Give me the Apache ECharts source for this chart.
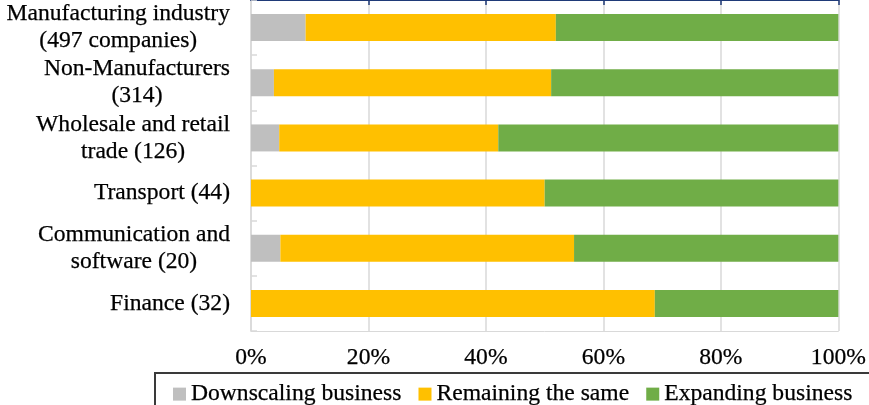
<!DOCTYPE html>
<html>
<head>
<meta charset="utf-8">
<title>Business outlook by industry</title>
<script src="https://cdn.jsdelivr.net/npm/echarts@6/dist/echarts.min.js"></script>
<style>
  html, body { margin: 0; padding: 0; background: #ffffff; }
  #chart { width: 869px; height: 405px; }
</style>
</head>
<body>
<div id="chart"></div>
<script>
// Industries (number of responding companies), listed top to bottom
const categories = [
  'Manufacturing industry\n(497 companies)',
  'Non-Manufacturers\n(314)',
  'Wholesale and retail\ntrade (126)',
  'Transport (44)',
  'Communication and\nsoftware (20)',
  'Finance (32)'
];

// Share of companies (%) in each outlook group
const downscaling = [9.3, 3.9, 4.8, 0, 5, 0];
const remaining   = [42.6, 47.2, 37.3, 50, 50, 68.75];
const expanding   = [48.1, 48.9, 57.9, 50, 45, 31.25];

const seriesNames = ['Downscaling business', 'Remaining the same', 'Expanding business'];
const percentTicks = [0, 20, 40, 60, 80, 100];

const FONT = '"Liberation Serif", "Times New Roman", serif';
const TEXT = '#000000';
const FS = 23.6;
const GRID = '#d9d9d9';

const chart = echarts.init(document.getElementById('chart'), null, { renderer: 'canvas' });

function centeredLines(value) {
  return value.split('\n').map(function (line) { return '{c|' + line + '}'; }).join('\n');
}

const textLook = { fontFamily: FONT, fontSize: FS, color: TEXT, textBorderColor: TEXT, textBorderWidth: 0.25 };

const option = {
  backgroundColor: '#ffffff',
  animation: false,
  grid: { left: 251, right: 27, top: 0, bottom: 74, containLabel: false },
  legend: {
    data: seriesNames,
    left: 173,
    top: 382,
    padding: 0,
    itemWidth: 13,
    itemHeight: 13,
    itemGap: 17,
    icon: 'rect',
    textStyle: textLook
  },
  graphic: [{
    type: 'rect',
    silent: true,
    shape: { x: 155, y: 373, width: 760, height: 80 },
    style: { fill: 'none', stroke: '#3a3a3a', lineWidth: 2 }
  }],
  xAxis: [{
    type: 'value',
    position: 'bottom',
    min: percentTicks[0],
    max: percentTicks[percentTicks.length - 1],
    interval: percentTicks[1] - percentTicks[0],
    axisLine: { show: true, lineStyle: { color: GRID, width: 1 } },
    axisTick: { show: false },
    splitLine: { show: true, lineStyle: { color: GRID, width: 1.5 } },
    axisLabel: Object.assign({ formatter: '{value}%', margin: 15 }, textLook)
  }, {
    type: 'value',
    position: 'top',
    min: percentTicks[0],
    max: percentTicks[percentTicks.length - 1],
    interval: percentTicks[1] - percentTicks[0],
    axisLine: { show: true, lineStyle: { color: '#1f3a78', width: 2 } },
    axisTick: {
      show: true,
      inside: true,
      length: 5,
      customValues: percentTicks.slice(1),
      lineStyle: { color: '#1f3a78', width: 1.5 }
    },
    axisLabel: { show: false },
    splitLine: { show: false }
  }],
  yAxis: {
    type: 'category',
    data: categories,
    inverse: true,
    axisLine: { show: true, lineStyle: { color: GRID, width: 1.5 } },
    axisTick: { show: true, inside: true, length: 6, lineStyle: { color: GRID, width: 1.5 } },
    axisLabel: {
      margin: 21,
      formatter: centeredLines,
      rich: {
        c: Object.assign({ align: 'center', lineHeight: 27 }, textLook)
      }
    }
  },
  series: [
    { name: seriesNames[0], type: 'bar', stack: 'share', barWidth: 27, data: downscaling, itemStyle: { color: '#bfbfbf' } },
    { name: seriesNames[1], type: 'bar', stack: 'share', barWidth: 27, data: remaining,   itemStyle: { color: '#ffc000' } },
    { name: seriesNames[2], type: 'bar', stack: 'share', barWidth: 27, data: expanding,   itemStyle: { color: '#70ad47' } }
  ]
};

chart.setOption(option);
</script>
</body>
</html>
